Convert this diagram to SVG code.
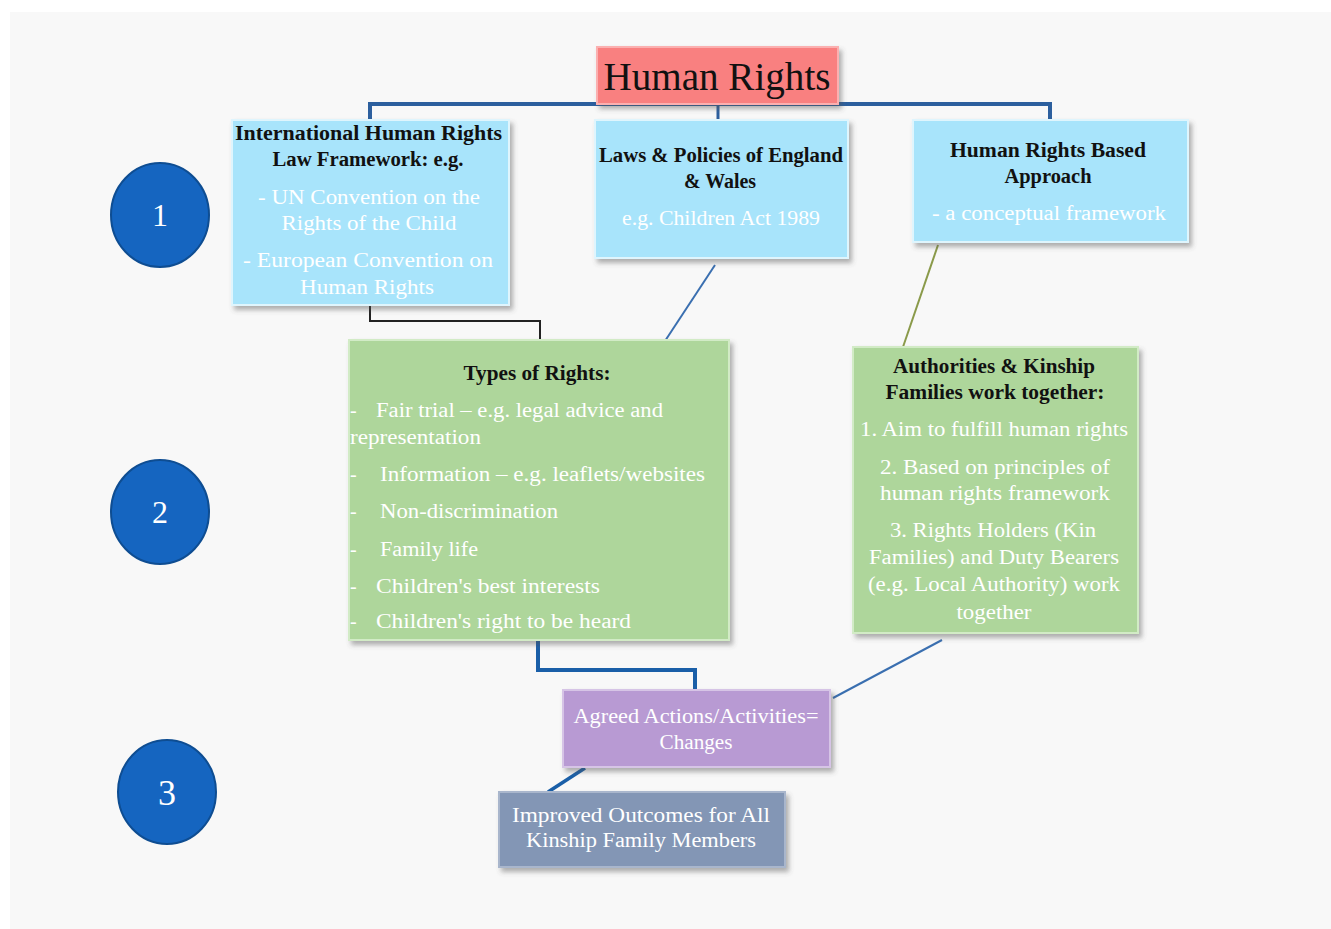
<svg xmlns="http://www.w3.org/2000/svg" width="1331" height="929" viewBox="0 0 1331 929">
<defs>
<filter id="sh" x="-10%" y="-10%" width="130%" height="130%">
<feDropShadow dx="3" dy="4" stdDeviation="2.5" flood-color="#555" flood-opacity="0.45"/>
</filter>
<style>
.t{font-family:"Liberation Serif","DejaVu Serif",serif;font-size:20px}
.big{font-size:40px}
.n{font-size:32px}
.b{font-weight:bold;fill:#111}
.w{fill:#ffffff}
.c{text-anchor:middle}
.blue{fill:#a8e4fb;stroke:#dff5fd;stroke-width:2}
.green{fill:#aed69b;stroke:#d2ebc6;stroke-width:2}
.num{fill:#1565c0;stroke:#0e4d92;stroke-width:2}
</style>
</defs>
<rect x="10" y="12" width="1321" height="917" fill="#f8f8f8"/>

<g id="connectors" fill="none">
<path d="M370,122 V104 H1050 V120" stroke="#2c5f9e" stroke-width="4"/>
<path d="M718,104 V120" stroke="#2c5f9e" stroke-width="3"/>
<path d="M370,305 V321 H540 V341" stroke="#222" stroke-width="2"/>
<path d="M715,265 L665,341" stroke="#3a6fb0" stroke-width="2"/>
<path d="M938,245 L903,347" stroke="#8a9a4a" stroke-width="2"/>
<path d="M538,641 V670 H695 V690" stroke="#1a5fa8" stroke-width="4"/>
<path d="M942,640 L833,698" stroke="#3a6fb0" stroke-width="2"/>
<path d="M585,768 L548,792" stroke="#1a5fa8" stroke-width="3.5"/>
</g>

<g id="title">
<rect x="597" y="47" width="241" height="57" fill="#f98080" stroke="#fbb0b0" stroke-width="2" filter="url(#sh)"/>
<text class="t big c" x="717" y="90" fill="#111" textLength="227" lengthAdjust="spacingAndGlyphs">Human Rights</text>
</g>

<g id="international">
<rect class="blue" x="232" y="120" width="277" height="185" filter="url(#sh)"/>
<text class="t b" x="235" y="140" textLength="267" lengthAdjust="spacingAndGlyphs">International  Human  Rights</text>
<text class="t b c" x="368" y="166" textLength="191" lengthAdjust="spacingAndGlyphs">Law Framework:  e.g.</text>
<text class="t w c" x="369" y="204" textLength="222" lengthAdjust="spacingAndGlyphs">- UN Convention  on the</text>
<text class="t w c" x="369" y="230" textLength="175" lengthAdjust="spacingAndGlyphs">Rights of the Child</text>
<text class="t w c" x="368" y="267" textLength="250" lengthAdjust="spacingAndGlyphs">- European  Convention  on</text>
<text class="t w c" x="367" y="294" textLength="134" lengthAdjust="spacingAndGlyphs">Human  Rights</text>
</g>

<g id="laws">
<rect class="blue" x="595" y="120" width="253" height="138" filter="url(#sh)"/>
<text class="t b c" x="721" y="162" textLength="244" lengthAdjust="spacingAndGlyphs">Laws &amp; Policies  of England</text>
<text class="t b c" x="720" y="188" textLength="72" lengthAdjust="spacingAndGlyphs">&amp; Wales</text>
<text class="t w c" x="721" y="225" textLength="198" lengthAdjust="spacingAndGlyphs">e.g.  Children  Act 1989</text>
</g>

<g id="hrba">
<rect class="blue" x="913" y="120" width="275" height="122" filter="url(#sh)"/>
<text class="t b c" x="1048" y="157" textLength="196" lengthAdjust="spacingAndGlyphs">Human  Rights  Based</text>
<text class="t b c" x="1048" y="183" textLength="87" lengthAdjust="spacingAndGlyphs">Approach</text>
<text class="t w c" x="1049" y="220" textLength="234" lengthAdjust="spacingAndGlyphs">- a conceptual  framework</text>
</g>

<g id="types">
<rect class="green" x="349" y="340" width="380" height="300" filter="url(#sh)"/>
<text class="t b c" x="537" y="380" textLength="147" lengthAdjust="spacingAndGlyphs">Types  of Rights:</text>
<text class="t w" x="350" y="417">-</text>
<text class="t w" x="376" y="417" textLength="287" lengthAdjust="spacingAndGlyphs">Fair trial  – e.g. legal  advice  and</text>
<text class="t w" x="350" y="444" textLength="131" lengthAdjust="spacingAndGlyphs">representation</text>
<text class="t w" x="350" y="481">-</text>
<text class="t w" x="380" y="481" textLength="325" lengthAdjust="spacingAndGlyphs">Information  – e.g. leaflets/websites</text>
<text class="t w" x="350" y="518">-</text>
<text class="t w" x="380" y="518" textLength="178" lengthAdjust="spacingAndGlyphs">Non-discrimination</text>
<text class="t w" x="350" y="556">-</text>
<text class="t w" x="380" y="556" textLength="98" lengthAdjust="spacingAndGlyphs">Family  life</text>
<text class="t w" x="350" y="593">-</text>
<text class="t w" x="376" y="593" textLength="224" lengthAdjust="spacingAndGlyphs">Children's  best interests</text>
<text class="t w" x="350" y="628">-</text>
<text class="t w" x="376" y="628" textLength="255" lengthAdjust="spacingAndGlyphs">Children's  right to be heard</text>
</g>

<g id="authorities">
<rect class="green" x="853" y="347" width="285" height="286" filter="url(#sh)"/>
<text class="t b c" x="994" y="373" textLength="202" lengthAdjust="spacingAndGlyphs">Authorities  &amp; Kinship</text>
<text class="t b c" x="995" y="399" textLength="219" lengthAdjust="spacingAndGlyphs">Families  work together:</text>
<text class="t w c" x="994" y="436" textLength="268" lengthAdjust="spacingAndGlyphs">1. Aim to fulfill human  rights</text>
<text class="t w c" x="995" y="474" textLength="230" lengthAdjust="spacingAndGlyphs">2. Based on principles  of</text>
<text class="t w c" x="995" y="500" textLength="230" lengthAdjust="spacingAndGlyphs">human  rights framework</text>
<text class="t w c" x="993" y="537" textLength="206" lengthAdjust="spacingAndGlyphs">3. Rights  Holders  (Kin</text>
<text class="t w c" x="994" y="564" textLength="250" lengthAdjust="spacingAndGlyphs">Families)  and  Duty Bearers</text>
<text class="t w c" x="994" y="591" textLength="252" lengthAdjust="spacingAndGlyphs">(e.g. Local Authority)  work</text>
<text class="t w c" x="994" y="619" textLength="75" lengthAdjust="spacingAndGlyphs">together</text>
</g>

<g id="agreed">
<rect x="563" y="690" width="267" height="77" fill="#b89ad3" stroke="#d6c4e6" stroke-width="2" filter="url(#sh)"/>
<text class="t w c" x="696" y="723" textLength="245" lengthAdjust="spacingAndGlyphs">Agreed  Actions/Activities=</text>
<text class="t w c" x="696" y="749" textLength="73" lengthAdjust="spacingAndGlyphs">Changes</text>
</g>

<g id="improved">
<rect x="499" y="792" width="286" height="75" fill="#8396b5" stroke="#a9b6cc" stroke-width="2" filter="url(#sh)"/>
<text class="t w c" x="641" y="822" textLength="258" lengthAdjust="spacingAndGlyphs">Improved  Outcomes  for All</text>
<text class="t w c" x="641" y="847" textLength="230" lengthAdjust="spacingAndGlyphs">Kinship  Family  Members</text>
</g>

<g id="step1">
<ellipse class="num" cx="160" cy="215" rx="49" ry="52"/>
<text class="t n w c" x="160" y="226">1</text>
</g>
<g id="step2">
<ellipse class="num" cx="160" cy="512" rx="49" ry="52"/>
<text class="t n w c" x="160" y="523">2</text>
</g>
<g id="step3">
<ellipse class="num" cx="167" cy="792" rx="49" ry="52"/>
<text class="t n w c" x="167" y="805" style="font-size:36px">3</text>
</g>
</svg>
